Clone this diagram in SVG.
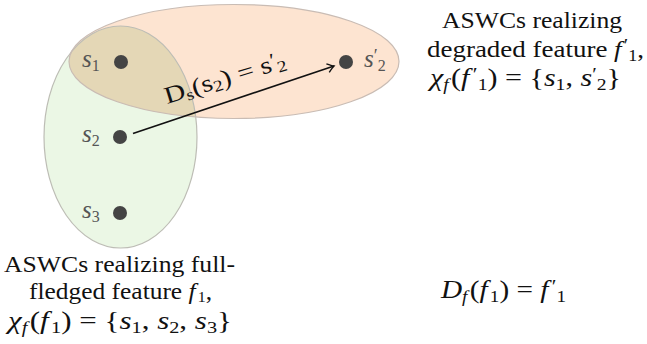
<svg xmlns="http://www.w3.org/2000/svg" width="647" height="344" viewBox="0 0 647 344">
<style>
.t{font-family:"Liberation Serif","DejaVu Serif","Times New Roman",serif;font-size:24px;fill:#111}
.mt{font-family:"Liberation Serif","DejaVu Serif","Times New Roman",serif;font-size:26px;fill:#111}
.m{font-style:italic}
.lab{font-family:"Liberation Serif","DejaVu Serif","Times New Roman",serif;font-size:25px;font-style:italic;fill:#555}
.dot{fill:#444}
.edge{fill:none;stroke:#111;stroke-width:1.6}
</style>
<defs>
<clipPath id="clipG"><ellipse cx="120.5" cy="137" rx="76.5" ry="111"/></clipPath>
<marker id="arr" viewBox="-8 -6 10 12" refX="0" refY="0" markerWidth="10" markerHeight="12" markerUnits="userSpaceOnUse" orient="auto">
<path d="M-6.5,-4.5 Q-2,-1 0,0 Q-2,1 -6.5,4.5" fill="none" stroke="#111" stroke-width="1.4"/>
</marker>
</defs>
<g id="set-fullfledged">
<ellipse cx="120.5" cy="137" rx="76.5" ry="111" fill="#ebf7e5"/>
</g>
<g id="set-degraded">
<ellipse cx="234" cy="61.5" rx="165" ry="57" fill="#fde4d1"/>
<ellipse cx="234" cy="61.5" rx="165" ry="57" fill="#e4d7b6" clip-path="url(#clipG)"/>
<ellipse cx="120.5" cy="137" rx="76.5" ry="111" fill="none" stroke="#bdbdb5" stroke-width="1.2"/>
<ellipse cx="234" cy="61.5" rx="165" ry="57" fill="none" stroke="#c9bcb4" stroke-width="1.2"/>
</g>
<g id="s1"><circle class="dot" cx="121" cy="62" r="7"/><text class="lab" x="82" y="67">s<tspan font-size="16" dy="4" font-style="normal">1</tspan></text></g>
<g id="s2"><circle class="dot" cx="120" cy="137" r="7"/><text class="lab" x="82" y="142">s<tspan font-size="16" dy="4" font-style="normal">2</tspan></text></g>
<g id="s3"><circle class="dot" cx="120" cy="213" r="7"/><text class="lab" x="82" y="218">s<tspan font-size="16" dy="4" font-style="normal">3</tspan></text></g>
<g id="s2p"><circle class="dot" cx="346" cy="62" r="7"/><text class="lab" x="364" y="67">s<tspan font-style="normal" font-size="18" dy="-5">′</tspan><tspan font-size="16" dy="9" font-style="normal">2</tspan></text></g>
<g id="connectors">
<line class="edge" x1="133" y1="133.5" x2="334" y2="66" marker-end="url(#arr)"/>
<text class="t" transform="translate(167,104) rotate(-17)" font-size="25" textLength="126" lengthAdjust="spacingAndGlyphs">D<tspan font-size="16" dy="3">s</tspan><tspan dy="-3">(s</tspan><tspan font-size="16" dy="3">2</tspan><tspan dy="-3">) = s</tspan><tspan font-size="19" dy="-5">′</tspan><tspan font-size="16" dy="8">2</tspan></text>
</g>
<g id="label-fullfledged">
<text class="t" x="4" y="272" textLength="231" lengthAdjust="spacingAndGlyphs">ASWCs realizing full-</text>
<text class="t" x="29" y="299" textLength="183" lengthAdjust="spacingAndGlyphs">fledged feature <tspan class="m">f</tspan><tspan font-size="15" dx="2" dy="3">1</tspan><tspan dy="-3">,</tspan></text>
<text class="mt" x="8" y="329" textLength="224" lengthAdjust="spacingAndGlyphs"><tspan class="m">χ</tspan><tspan class="m" font-size="17" dy="4">f</tspan><tspan dx="2" dy="-4">(</tspan><tspan class="m">f</tspan><tspan font-size="17" dx="2" dy="4">1</tspan><tspan dy="-4">) = {</tspan><tspan class="m">s</tspan><tspan font-size="17" dy="4">1</tspan><tspan dy="-4">, </tspan><tspan class="m">s</tspan><tspan font-size="17" dy="4">2</tspan><tspan dy="-4">, </tspan><tspan class="m">s</tspan><tspan font-size="17" dy="4">3</tspan><tspan dy="-4">}</tspan></text>
</g>
<g id="label-degraded">
<text class="t" x="442" y="28" textLength="180" lengthAdjust="spacingAndGlyphs">ASWCs realizing</text>
<text class="t" x="427" y="57" textLength="217" lengthAdjust="spacingAndGlyphs">degraded feature <tspan class="m">f</tspan><tspan font-size="18" dx="2" dy="-5">′</tspan><tspan font-size="16" dy="9">1</tspan><tspan dy="-4">,</tspan></text>
<text class="mt" x="430" y="86" textLength="191" lengthAdjust="spacingAndGlyphs"><tspan class="m">χ</tspan><tspan class="m" font-size="17" dy="4">f</tspan><tspan dx="2" dy="-4">(</tspan><tspan class="m">f</tspan><tspan font-size="19" dx="3" dy="-5">′</tspan><tspan font-size="17" dy="9">1</tspan><tspan dy="-4">) = {</tspan><tspan class="m">s</tspan><tspan font-size="17" dy="4">1</tspan><tspan dy="-4">, </tspan><tspan class="m">s</tspan><tspan font-size="18" dy="-5">′</tspan><tspan font-size="17" dy="9">2</tspan><tspan dy="-4">}</tspan></text>
</g>
<g id="label-mapping">
<text class="mt" x="441" y="298" textLength="125" lengthAdjust="spacingAndGlyphs"><tspan class="m">D</tspan><tspan class="m" font-size="17" dy="4">f</tspan><tspan dx="2" dy="-4">(</tspan><tspan class="m">f</tspan><tspan font-size="17" dx="2" dy="4">1</tspan><tspan dy="-4">) = </tspan><tspan class="m">f</tspan><tspan font-size="19" dx="3" dy="-5">′</tspan><tspan font-size="17" dy="9">1</tspan></text>
</g>
</svg>
